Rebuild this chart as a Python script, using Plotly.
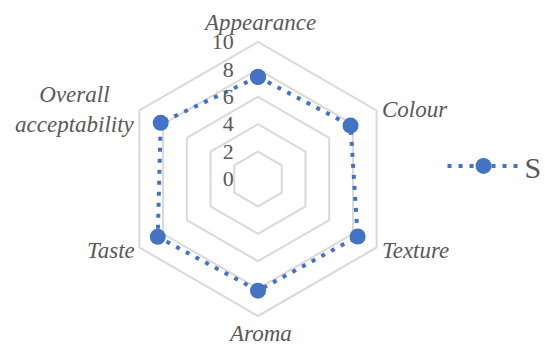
import plotly.graph_objects as go

# Sensory scores for sample S
attributes = ["Appearance", "Colour", "Texture", "Aroma", "Taste", "Overall<br>acceptability"]
scores_s = [7.45, 7.8, 8.4, 8.15, 8.45, 8.2]
radial_ticks = [0, 2, 4, 6, 8, 10]

LINE_BLUE = "#4472C4"
GRID_GREY = "#D9D9D9"
TEXT_GREY = "#595959"
SERIF = "'Times New Roman', 'Liberation Serif', serif"
W, H = 545, 345

fig = go.Figure()
fig.add_trace(go.Scatterpolar(
    r=scores_s + scores_s[:1],
    theta=attributes + attributes[:1],
    mode="lines+markers",
    name="S",
    line=dict(color=LINE_BLUE, width=4, dash="4px,7px"),
    marker=dict(color=LINE_BLUE, size=16),
))

# Category labels placed around the hexagon (pixel anchors -> paper coords)
label_place = [
    (259, 23, "center"),
    (380, 109, "left"),
    (380, 251, "left"),
    (260, 333, "center"),
    (137, 251, "right"),
    (137, 110, "right"),
]
for name, (px, py, anchor) in zip(attributes, label_place):
    fig.add_annotation(
        x=px / W, y=1 - py / H, xref="paper", yref="paper",
        text=name, showarrow=False, xanchor=anchor, yanchor="middle",
        align="center",
        font=dict(family=SERIF, size=23, color=TEXT_GREY, style="italic"),
    )

fig.update_layout(
    width=W, height=H,
    margin=dict(l=0, r=0, t=0, b=0, autoexpand=False),
    paper_bgcolor="white",
    plot_bgcolor="white",
    font=dict(family=SERIF, color=TEXT_GREY, size=22),
    polar=dict(
        domain=dict(x=[0.2220, 0.7248], y=[0.0841, 0.8783]),
        bgcolor="white",
        gridshape="linear",
        angularaxis=dict(
            direction="clockwise",
            rotation=90,
            showgrid=False,
            showline=True,
            linecolor=GRID_GREY,
            linewidth=2,
            ticks="",
            showticklabels=False,
        ),
        radialaxis=dict(
            range=[0, 10],
            tickvals=radial_ticks,
            ticktext=[str(v) for v in radial_ticks],
            angle=90,
            tickangle=90,
            side="counterclockwise",
            showline=False,
            ticks="outside",
            ticklen=16,
            tickcolor="rgba(0,0,0,0)",
            showgrid=True,
            gridcolor=GRID_GREY,
            gridwidth=2,
            tickfont=dict(family=SERIF, size=22, color=TEXT_GREY),
        ),
    ),
    showlegend=True,
    legend=dict(
        x=0.812, y=0.519, xanchor="left", yanchor="middle",
        font=dict(family=SERIF, size=30, color=TEXT_GREY),
        itemwidth=72,
        bgcolor="rgba(0,0,0,0)",
    ),
)

fig.write_html("out.html")
